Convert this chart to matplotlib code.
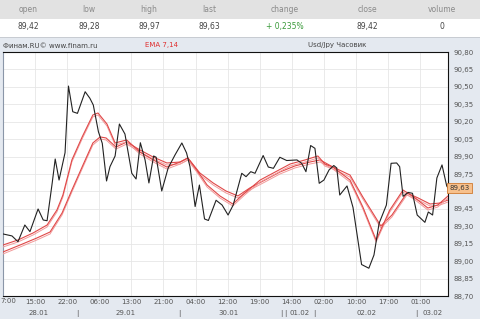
import matplotlib.pyplot as plt
import matplotlib.transforms as mtransforms
from matplotlib.patches import Rectangle
import numpy as np

# header table
head_labels = ['open', 'low', 'high', 'last', 'change', 'close', 'volume']
head_values = ['89,42', '89,28', '89,97', '89,63', '+ 0,235%', '89,42', '0']
head_x = [28, 89, 149, 209, 285, 367, 442]

# price (hourly bars, x = bar index)
price_x = [0, 2.1, 3.5, 5.1, 6.3, 8.2, 9.4, 10.3, 11.5, 12.2, 13.1, 14.5, 15.3, 16.3, 17.4,
           19.2, 20.3, 21.1, 22.3, 23.2, 24.2, 25.0, 26.2, 27.2, 28.5, 30.1, 31.1, 32.1, 33.2,
           34.1, 35.2, 35.8, 37.1, 38.6, 40.2, 41.8, 42.9, 43.7, 44.9, 45.9, 47.1, 48.0, 49.8,
           51.2, 52.6, 53.8, 55.8, 56.8, 57.9, 58.9, 60.8, 62.0, 63.2, 64.7, 66.3, 68.7, 69.8,
           70.8, 71.9, 72.9, 73.9, 75.0, 76.2, 77.3, 78.0, 78.7, 80.4, 81.8, 83.8, 85.5, 86.7,
           87.9, 89.6, 90.7, 92.0, 92.7, 93.5, 94.7, 95.7, 96.8, 98.6, 99.4, 100.4, 101.4, 102.6,
           103.7, 104.0]
price_y = [89.234, 89.217, 89.167, 89.311, 89.254, 89.449, 89.354, 89.348, 89.673, 89.879,
           89.698, 89.933, 90.507, 90.286, 90.272, 90.458, 90.402, 90.344, 90.114, 90.014,
           89.690, 89.813, 89.905, 90.180, 90.094, 89.756, 89.707, 90.019, 89.871, 89.673,
           89.905, 89.894, 89.604, 89.802, 89.914, 90.017, 89.931, 89.813, 89.470, 89.655,
           89.363, 89.350, 89.524, 89.483, 89.397, 89.483, 89.756, 89.727, 89.770, 89.756,
           89.909, 89.810, 89.799, 89.894, 89.866, 89.871, 89.842, 89.770, 89.995, 89.971,
           89.670, 89.698, 89.785, 89.823, 89.802, 89.569, 89.647, 89.462, 88.971, 88.939,
           89.053, 89.326, 89.483, 89.842, 89.845, 89.813, 89.558, 89.591, 89.584, 89.397,
           89.334, 89.423, 89.397, 89.716, 89.828, 89.647, 89.63]

# EMA 7
ema7_x = [0, 3.5, 7.0, 10.3, 12.6, 14.0, 16.1, 18.5, 21.0, 22.2, 24.3, 26.2, 28.9, 32.0,
          35.1, 38.3, 41.4, 43.2, 45.3, 47.7, 50.7, 53.7, 56.5, 60.1, 63.6, 67.1, 70.6, 73.6,
          75.2, 77.1, 81.1, 84.1, 87.2, 90.4, 93.5, 96.3, 99.3, 101.6, 104.0]
ema7_y = [89.139, 89.182, 89.242, 89.311, 89.440, 89.569, 89.871, 90.069, 90.258, 90.275,
          90.180, 90.017, 90.043, 89.939, 89.871, 89.810, 89.853, 89.888, 89.784, 89.655,
          89.561, 89.492, 89.587, 89.698, 89.767, 89.836, 89.871, 89.905, 89.836, 89.810,
          89.698, 89.466, 89.182, 89.440, 89.612, 89.544, 89.457, 89.483, 89.561]

# EMA 14
ema14_x = [0, 4.0, 7.9, 11.0, 13.8, 16.1, 18.7, 21.0, 22.7, 24.1, 26.4, 28.9, 32.0, 35.1,
           38.3, 41.4, 43.2, 46.0, 49.1, 52.1, 54.9, 57.7, 61.2, 64.7, 68.2, 71.7, 74.1, 77.1,
           81.1, 84.1, 88.3, 90.9, 94.4, 97.0, 99.8, 102.1, 104.0]
ema14_y = [89.079, 89.139, 89.199, 89.251, 89.414, 89.612, 89.828, 90.017, 90.069, 90.060,
           89.982, 90.025, 89.957, 89.896, 89.845, 89.853, 89.888, 89.759, 89.673, 89.604,
           89.561, 89.630, 89.698, 89.767, 89.819, 89.853, 89.871, 89.810, 89.741, 89.552,
           89.303, 89.397, 89.587, 89.544, 89.492, 89.500, 89.526]

time_labels = ['7:00', '15:00', '22:00', '06:00', '13:00', '21:00', '04:00',
               '12:00', '19:00', '14:00', '02:00', '10:00', '17:00', '01:00']
date_labels = ['28.01', '|', '29.01', '|', '30.01', '|', '|', '01.02', '|', '02.02', '|', '03.02']
date_x = [8.4, 17.3, 28.7, 41.1, 52.6, 65.0, 65.9, 69.4, 72.7, 85.0, 96.7, 100.3]
last_value = 89.63

bg = '#e4e9f0'
fig = plt.figure(figsize=(4.8, 3.19), dpi=100, facecolor=bg)

# header
fig.patches.append(Rectangle((0, 1 - 19 / 319), 1, 19 / 319, transform=fig.transFigure,
                             facecolor='#e2e2e2', edgecolor='none', zorder=0))
fig.patches.append(Rectangle((0, 1 - 37 / 319), 1, 18 / 319, transform=fig.transFigure,
                             facecolor='white', edgecolor='none', zorder=0))
fig.patches.append(Rectangle((0, 1 - 38 / 319), 1, 1 / 319, transform=fig.transFigure,
                             facecolor='#c8ccd2', edgecolor='none', zorder=0))
for lab, val, hx in zip(head_labels, head_values, head_x):
    fig.text(hx / 480, 1 - 9.5 / 319, lab, ha='center', va='center', fontsize=5.5, color='#8a8a8a')
    c = '#3a9a3a' if val.startswith('+') else '#444444'
    fig.text(hx / 480, 1 - 26.5 / 319, val, ha='center', va='center', fontsize=5.5, color=c)

fig.text(3 / 480, 1 - 45.5 / 319, 'Финам.RU© www.finam.ru', ha='left', va='center', fontsize=5, color='#444444')
fig.text(145 / 480, 1 - 45.5 / 319, 'EMA 7,14', ha='left', va='center', fontsize=5, color='#e03030')
fig.text(308 / 480, 1 - 45.5 / 319, 'Usd/Jpy Часовик', ha='left', va='center', fontsize=5, color='#444444')

ax = fig.add_axes([3 / 480, 1 - 296 / 319, 445 / 480, 244 / 319])
ax.set_facecolor('white')

off = mtransforms.offset_copy(ax.transData, fig=fig, x=0, y=-2, units='dots')
ax.plot(ema14_x, ema14_y, color='#f29a9a', lw=0.7, transform=off, zorder=3)
ax.plot(ema14_x, ema14_y, color='#e04848', lw=0.8, zorder=3)
ax.plot(ema7_x, ema7_y, color='#f29a9a', lw=0.7, transform=off, zorder=3)
ax.plot(ema7_x, ema7_y, color='#e04848', lw=0.8, zorder=3)
ax.plot(price_x, price_y, color='#222222', lw=0.8, zorder=4)

ax.set_xlim(0, 104)
ax.set_ylim(88.70, 90.80)
yt = np.arange(88.70, 90.801, 0.15)
ax.set_yticks(yt)
# the 89,60 label sits under the last-price box
ax.set_yticklabels(['' if abs(v - 89.60) < 0.01 else ('%.2f' % v).replace('.', ',') for v in yt])
ax.yaxis.tick_right()
ax.set_xticks(np.arange(len(time_labels)) * 7.5)
ax.set_xticklabels([''] + time_labels[1:])
ax.tick_params(axis='both', length=0, labelsize=5, colors='#555555', pad=2)
ax.tick_params(axis='y', pad=4)
ax.grid(True, color='#e6e6e6', lw=0.6)
ax.set_axisbelow(True)
for s in ['top', 'right', 'bottom']:
    ax.spines[s].set_color('#111111')
    ax.spines[s].set_linewidth(0.8)
ax.spines['left'].set_color('#8a96a8')
ax.spines['left'].set_linewidth(0.8)

# first time label is clipped by the left edge in the original
fig.text(0.5 / 480, 1 - 301 / 319, time_labels[0], ha='left', va='center', fontsize=5, color='#555555')

trans = mtransforms.blended_transform_factory(ax.transData, ax.transAxes)
for dl, dx in zip(date_labels, date_x):
    ax.text(dx, -0.07, dl, transform=trans, ha='center', va='center', fontsize=5, color='#555555')

# last price marker
ytr = mtransforms.blended_transform_factory(ax.transAxes, ax.transData)
ax.text(1.004, last_value, ('%.2f' % last_value).replace('.', ','), transform=ytr, ha='left', va='center',
        fontsize=5, color='#333333', clip_on=False, zorder=10,
        bbox=dict(boxstyle='square,pad=0.35', facecolor='#f7c08c', edgecolor='#d07a30', lw=0.6))

plt.savefig('out.png', dpi=100, facecolor=bg)
